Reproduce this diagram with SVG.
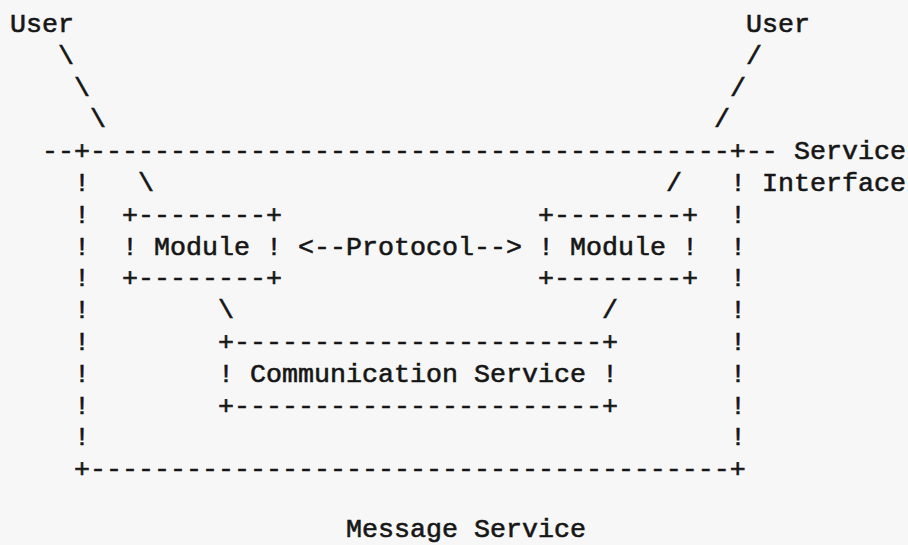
<svg xmlns="http://www.w3.org/2000/svg" width="908" height="545" viewBox="0 0 908 545">
<style>
text{font-family:"Liberation Mono","Courier New",monospace;font-size:26.67px;fill:#161616;stroke:#161616;stroke-width:0.6;white-space:pre}
</style>
<rect width="908" height="545" fill="#f7f7f7"/>
<g id="user-left"><text x="10" y="32">User</text></g>
<g id="user-right"><text x="746" y="32">User</text></g>
<g id="message-service">
<text x="42" y="159.2" xml:space="preserve">--+----------------------------------------+--</text>
<text x="794" y="159.2">Service</text>
<text x="762" y="191">Interface</text>
<text x="74" y="191">!</text><text x="730" y="191">!</text>
<text x="74" y="222.8">!</text><text x="730" y="222.8">!</text>
<text x="74" y="254.6">!</text><text x="730" y="254.6">!</text>
<text x="74" y="286.4">!</text><text x="730" y="286.4">!</text>
<text x="74" y="318.2">!</text><text x="730" y="318.2">!</text>
<text x="74" y="350">!</text><text x="730" y="350">!</text>
<text x="74" y="381.8">!</text><text x="730" y="381.8">!</text>
<text x="74" y="413.6">!</text><text x="730" y="413.6">!</text>
<text x="74" y="445.4">!</text><text x="730" y="445.4">!</text>
<text x="74" y="477.2" xml:space="preserve">+----------------------------------------+</text>
<text x="346" y="537" xml:space="preserve">Message Service</text>
</g>
<g id="module-left">
<text x="122" y="222.8">+--------+</text>
<text x="122" y="254.6" xml:space="preserve">! Module !</text>
<text x="122" y="286.4">+--------+</text>
</g>
<g id="module-right">
<text x="538" y="222.8">+--------+</text>
<text x="538" y="254.6" xml:space="preserve">! Module !</text>
<text x="538" y="286.4">+--------+</text>
</g>
<g id="communication-service">
<text x="218" y="350">+-----------------------+</text>
<text x="218" y="381.8" xml:space="preserve">! Communication Service !</text>
<text x="218" y="413.6">+-----------------------+</text>
</g>
<g id="connectors">
<text x="58" y="63.8">\</text>
<text x="74" y="95.6">\</text>
<text x="90" y="127.4">\</text>
<text x="138" y="191">\</text>
<text x="746" y="63.8">/</text>
<text x="730" y="95.6">/</text>
<text x="714" y="127.4">/</text>
<text x="666" y="191">/</text>
<text x="298" y="254.6">&lt;--Protocol--&gt;</text>
<text x="218" y="318.2">\</text>
<text x="602" y="318.2">/</text>
</g>
</svg>
